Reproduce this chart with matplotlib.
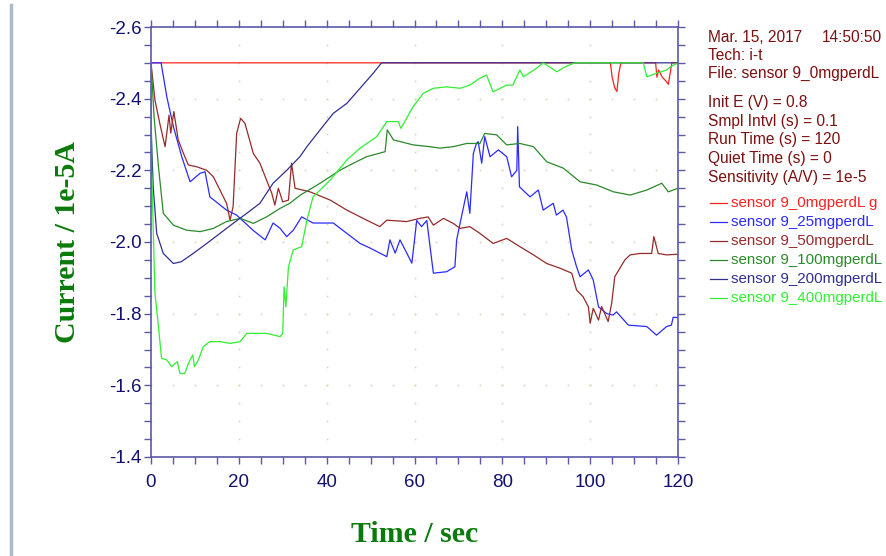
#!/usr/bin/env python3
from matplotlib import pyplot as plt
from matplotlib.ticker import MultipleLocator
from matplotlib.lines import Line2D
import numpy as np

# traced curves (time in s, current in 1e-5 A)
t_0mg = [0, 104.6, 105.0, 105.6, 106.1, 106.5, 107.0, 114.9, 115.2, 115.6, 116.4, 117.2, 117.8, 118.2, 118.6, 120]
i_0mg = [-2.5, -2.5, -2.46, -2.43, -2.42, -2.47, -2.5, -2.5, -2.46, -2.48, -2.46, -2.45, -2.44, -2.47, -2.5, -2.5]

t_25mg = [0, 2.3, 3.6, 5.1, 7.0, 8.9, 11.2, 12.3, 13.4, 17.2, 19.5, 23.2, 26.0, 27.8, 29.4, 30.9, 32.4, 34.3,
          36.9, 41.5, 44.6, 47.6, 49.9, 53.7, 54.4, 55.6, 56.7, 59.4, 60.5, 61.6, 62.8, 64.3, 67.3, 69.2, 69.6,
          70.7, 71.9, 72.6, 73.4, 74.1, 74.5, 75.3, 76.0, 77.2, 79.1, 81.0, 82.1, 83.3, 83.5, 83.9, 86.3, 88.2,
          89.3, 91.6, 92.3, 93.8, 94.6, 95.8, 96.9, 97.7, 99.6, 100.7, 101.9, 103.8, 105.2, 106.0, 108.7, 112.9,
          115.1, 117.4, 118.5, 118.9, 120]
i_25mg = [-2.5, -2.5, -2.405, -2.322, -2.238, -2.168, -2.192, -2.196, -2.126, -2.089, -2.075, -2.033, -2.006,
          -2.053, -2.038, -2.015, -2.033, -2.07, -2.053, -2.053, -2.024, -1.996, -1.983, -1.959, -2.006, -1.969,
          -2.006, -1.941, -2.06, -2.043, -2.06, -1.913, -1.917, -1.931, -2.006, -2.071, -2.14, -2.08, -2.247,
          -2.275, -2.28, -2.22, -2.294, -2.238, -2.257, -2.238, -2.182, -2.2, -2.322, -2.154, -2.126, -2.145,
          -2.089, -2.108, -2.075, -2.089, -2.07, -1.978, -1.931, -1.903, -1.922, -1.894, -1.819, -1.80, -1.796,
          -1.805, -1.768, -1.764, -1.74, -1.764, -1.768, -1.79, -1.789]

t_50mg = [0, 0.9, 2.0, 3.2, 3.6, 4.1, 4.5, 5.2, 6.2, 7.4, 8.5, 10.4, 12.7, 14.2, 15.7, 17.2, 18.0, 18.7, 19.5,
          20.4, 21.4, 23.3, 24.8, 26.3, 27.5, 28.2, 29.0, 30.0, 31.3, 32.0, 32.8, 36.2, 40.8, 44.6, 49.1, 52.1,
          53.7, 58.2, 61.2, 63.1, 64.3, 66.6, 68.8, 70.4, 72.6, 74.9, 77.9, 81.0, 84.0, 87.1, 90.1, 93.1, 95.8,
          96.9, 98.4, 99.6, 100.0, 100.7, 101.9, 102.6, 104.1, 104.9, 105.6, 107.9, 109.1, 111.3, 114.0, 114.5,
          115.5, 117.4, 120]
i_50mg = [-2.5, -2.396, -2.331, -2.266, -2.304, -2.354, -2.304, -2.364, -2.285, -2.247, -2.215, -2.21, -2.2,
          -2.182, -2.145, -2.108, -2.061, -2.099, -2.303, -2.345, -2.331, -2.247, -2.22, -2.173, -2.136, -2.103,
          -2.15, -2.112, -2.117, -2.22, -2.15, -2.14, -2.117, -2.089, -2.061, -2.043, -2.061, -2.057, -2.066,
          -2.07, -2.047, -2.066, -2.052, -2.038, -2.043, -2.024, -1.996, -2.01, -1.987, -1.964, -1.94, -1.927,
          -1.913, -1.866, -1.847, -1.819, -1.773, -1.815, -1.782, -1.82, -1.778, -1.829, -1.903, -1.95, -1.964,
          -1.968, -1.968, -2.015, -1.968, -1.964, -1.966]

t_100mg = [0, 0.7, 1.7, 2.8, 5.1, 8.1, 11.2, 14.2, 17.2, 20.3, 23.3, 26.3, 29.4, 31.6, 33.9, 38.5, 43.0, 46.1,
           49.1, 53.3, 53.8, 55.2, 59.7, 63.5, 65.8, 68.8, 71.9, 74.9, 76.0, 78.7, 81.0, 84.0, 87.1, 90.1, 93.9,
           97.7, 101.5, 105.3, 109.1, 112.9, 116.3, 117.8, 120]
i_100mg = [-2.5, -2.35, -2.21, -2.08, -2.047, -2.033, -2.029, -2.038, -2.057, -2.066, -2.052, -2.07, -2.094,
           -2.108, -2.13, -2.164, -2.2, -2.22, -2.238, -2.252, -2.313, -2.285, -2.271, -2.266, -2.262, -2.266,
           -2.275, -2.275, -2.303, -2.299, -2.271, -2.275, -2.266, -2.224, -2.206, -2.168, -2.159, -2.14, -2.131,
           -2.145, -2.164, -2.14, -2.15]

t_200mg = [0, 0.5, 1.3, 2.8, 5.1, 6.9, 9.6, 12.7, 15.7, 18.7, 21.8, 24.8, 27.8, 30.9, 33.9, 35.5, 38.5, 41.5,
           44.6, 47.6, 50.6, 52.5, 120]
i_200mg = [-2.33, -2.154, -2.024, -1.968, -1.94, -1.945, -1.968, -1.996, -2.024, -2.052, -2.08, -2.108, -2.164,
           -2.2, -2.238, -2.266, -2.313, -2.359, -2.387, -2.429, -2.471, -2.5, -2.5]

t_400mg = [0, 0.15, 0.9, 1.7, 2.4, 3.6, 4.7, 5.5, 6.0, 6.6, 7.7, 8.5, 9.5, 9.9, 10.8, 11.9, 13.4, 15.7, 18.0,
           20.3, 21.8, 24.0, 26.3, 29.4, 30.0, 30.3, 30.7, 31.3, 32.4, 34.3, 35.5, 36.9, 38.5, 40.8, 44.6, 47.6,
           51.4, 53.7, 56.3, 56.9, 59.7, 62.0, 64.3, 67.3, 70.4, 72.6, 74.9, 76.4, 77.9, 81.0, 82.4, 84.0, 84.8,
           87.8, 89.3, 91.2, 92.4, 94.3, 96.5, 112.1, 112.9, 115.1, 117.4, 118.3, 120]
i_400mg = [-2.5, -2.2, -1.857, -1.764, -1.675, -1.671, -1.652, -1.661, -1.666, -1.633, -1.633, -1.661, -1.685,
           -1.652, -1.671, -1.708, -1.722, -1.722, -1.717, -1.722, -1.745, -1.745, -1.745, -1.736, -1.745,
           -1.875, -1.819, -1.931, -1.978, -1.987, -2.061, -2.126, -2.145, -2.173, -2.229, -2.262, -2.294, -2.336,
           -2.336, -2.317, -2.378, -2.415, -2.429, -2.433, -2.429, -2.438, -2.457, -2.466, -2.419, -2.438, -2.438,
           -2.48, -2.461, -2.485, -2.5, -2.485, -2.475, -2.489, -2.5, -2.5, -2.461, -2.471, -2.48, -2.489, -2.5]

labels = ["sensor 9_0mgperdL g", "sensor 9_25mgperdL", "sensor 9_50mgperdL",
          "sensor 9_100mgperdL", "sensor 9_200mgperdL", "sensor 9_400mgperdL"]
colors = ["#ff2020", "#2a2aff", "#962a2a", "#2a8a2a", "#303090", "#30f030"]

info = ["Tech: i-t", "File: sensor 9_0mgperdL", None,
        "Init E (V) = 0.8", "Smpl Intvl (s) = 0.1", "Run Time (s) = 120",
        "Quiet Time (s) = 0", "Sensitivity (A/V) = 1e-5"]

fig = plt.figure(figsize=(8.86, 5.56), dpi=100)
ax = fig.add_axes([151 / 886, 1 - 457 / 556, (678 - 151) / 886, (457 - 27) / 556])

axis_col = "#5a5aa8"
tick_col = "#12126e"

# dotted grid: dots along major lines at minor spacing
for gx in np.arange(0, 121, 20):
    ys = np.arange(-2.6, -1.39, 0.05)
    ax.plot([gx] * len(ys), ys, ls="none", marker="s", ms=1.2, color="#d8d8b0", mec="none", zorder=0)
for gy in np.arange(-2.6, -1.39, 0.2):
    xs = np.arange(0, 121, 5)
    ax.plot(xs, [gy] * len(xs), ls="none", marker="s", ms=1.2, color="#d8d8b0", mec="none", zorder=0)

series = [(t_0mg, i_0mg), (t_25mg, i_25mg), (t_50mg, i_50mg),
          (t_100mg, i_100mg), (t_200mg, i_200mg), (t_400mg, i_400mg)]
for (xs, ys), c in zip(series, colors):
    ax.plot(xs, ys, color=c, lw=0.9)

ax.set_xlim(0, 120)
ax.set_ylim(-1.4, -2.6)
ax.xaxis.set_major_locator(MultipleLocator(20))
ax.xaxis.set_minor_locator(MultipleLocator(5))
ax.yaxis.set_major_locator(MultipleLocator(0.2))
ax.yaxis.set_minor_locator(MultipleLocator(0.05))
ax.yaxis.set_major_formatter(plt.FuncFormatter(lambda v, p: "%.1f" % v))
for s in ax.spines.values():
    s.set_color(axis_col)
    s.set_linewidth(1.2)
ax.tick_params(which="both", direction="out", color=axis_col, length=5, width=1,
               top=True, right=True, labeltop=False, labelright=False)
ax.tick_params(which="major", labelsize=13.5, labelcolor=tick_col)
ax.tick_params(axis="y", which="major", pad=2)
ax.tick_params(axis="x", which="major", pad=7)
for lab in ax.get_xticklabels() + ax.get_yticklabels():
    lab.set_family("Liberation Sans")

ax.set_xlabel("Time / sec", family="Liberation Serif", fontweight="bold", fontsize=21.5,
              color="#0a7a0a", labelpad=22)
ax.set_ylabel("Current / 1e-5A", family="Liberation Serif", fontweight="bold", fontsize=21.5,
              color="#0a7a0a", labelpad=20)

# window border on the left
fig.add_artist(Line2D([10.5 / 886, 10.5 / 886], [0, 1 - 5 / 556], color="#a8bccf", lw=2.5))

# info block
tx = 708 / 886
fs = 11.2
fig.text(tx, 1 - 37 / 556, "Mar. 15, 2017", color="#7a1010", fontsize=fs,
         family="Liberation Sans", va="center")
fig.text(822 / 886, 1 - 37 / 556, "14:50:50", color="#7a1010", fontsize=fs,
         family="Liberation Sans", va="center")
y = 55
for line in info:
    if line is None:
        y += 10
        continue
    fig.text(tx, 1 - y / 556, line, color="#7a1010", fontsize=fs, family="Liberation Sans", va="center")
    y += 18.7

y = 203
for lab, c in zip(labels, colors):
    fig.add_artist(Line2D([710 / 886, 727 / 886], [1 - y / 556] * 2, color=c, lw=0.9))
    fig.text(731 / 886, 1 - y / 556, lab, color=c, fontsize=10.9, family="Liberation Sans", va="center")
    y += 19

plt.savefig("out.png")
